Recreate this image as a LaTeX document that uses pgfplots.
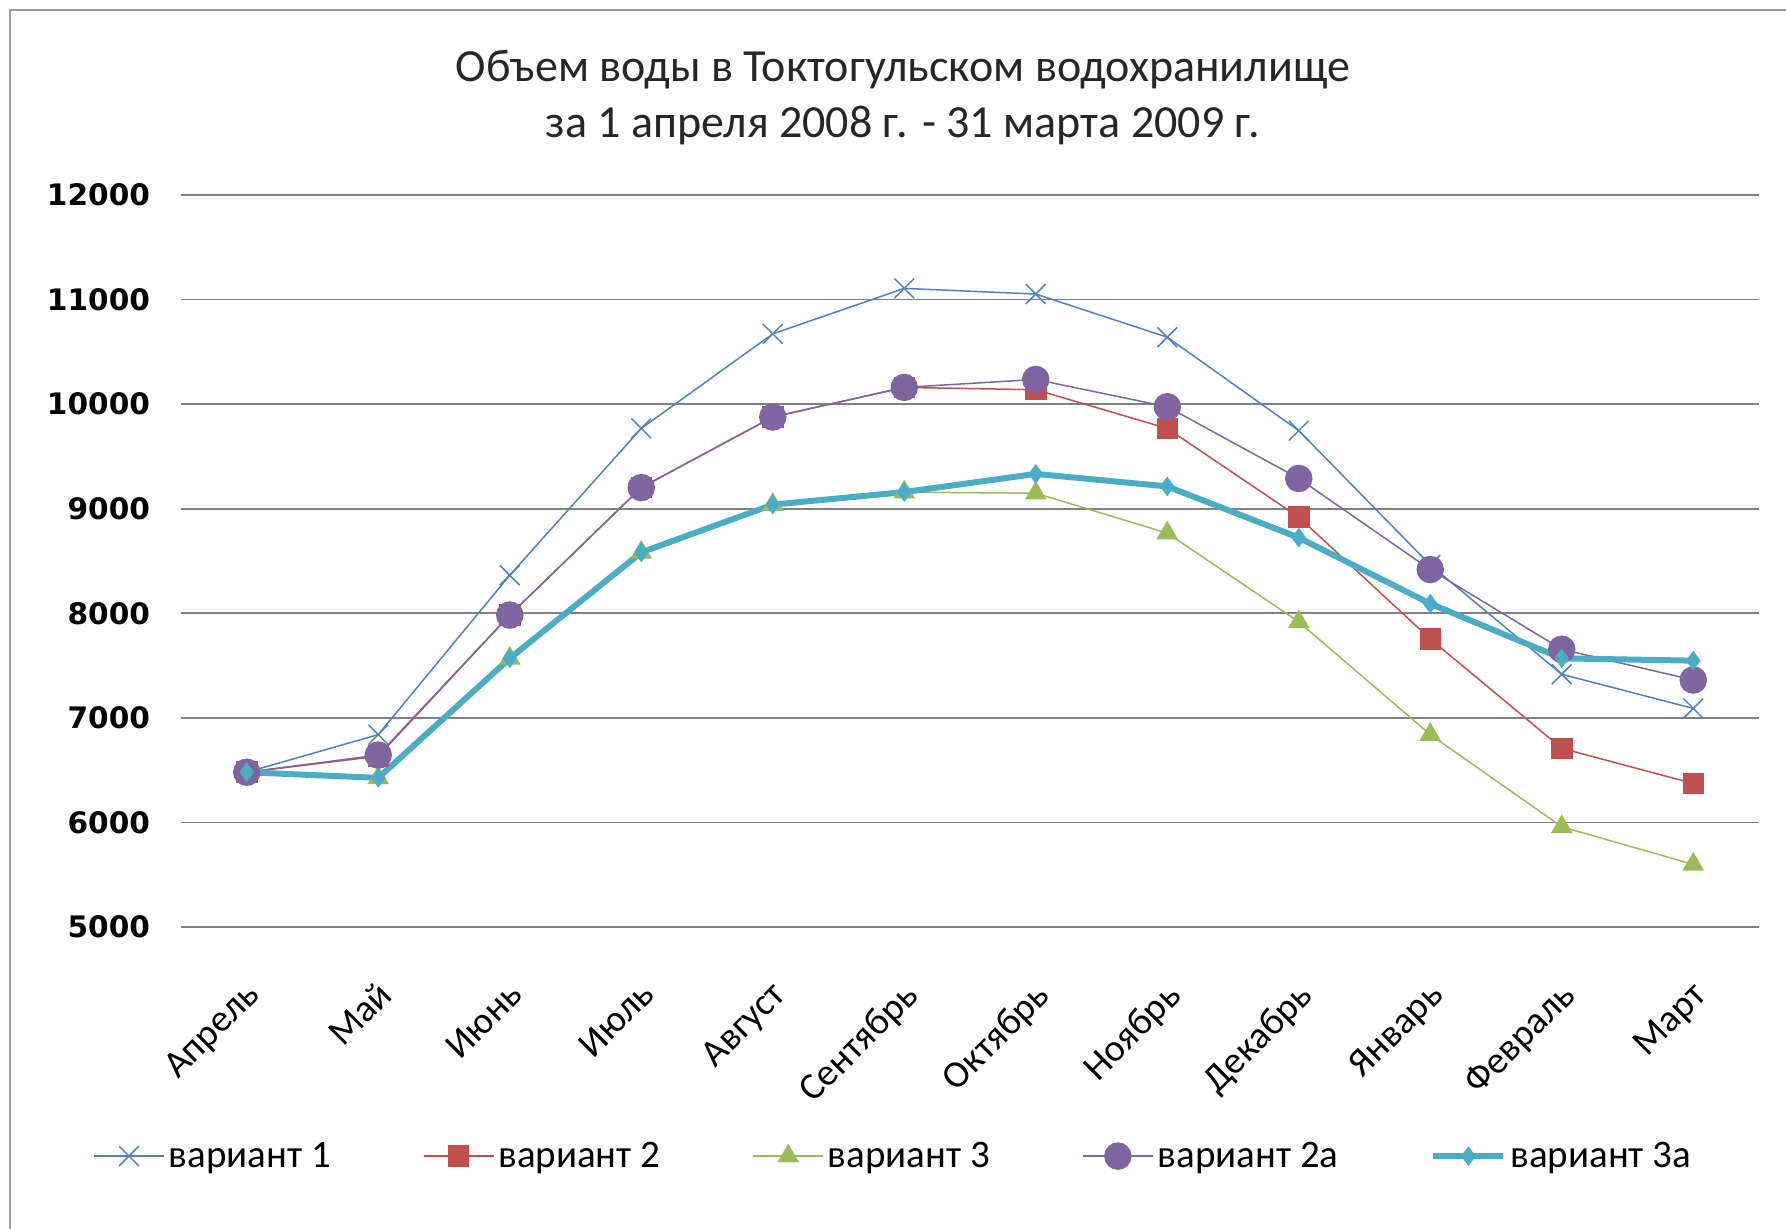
\documentclass[border=0pt]{standalone}
\usepackage{pgfplots}
\pgfplotsset{compat=1.18}
\usepackage{fontspec}
\setmainfont{Carlito}
\newfontfamily\tickfont{DejaVu Sans}
\definecolor{c1}{HTML}{4F81BD}
\definecolor{c2}{HTML}{C0504D}
\definecolor{c3}{HTML}{9BBB59}
\definecolor{c4}{HTML}{8064A2}
\definecolor{c5}{HTML}{4BACC6}
\pgfplotstableread{
x v1 v2 v3 v2a v3a
0 6480 6480 6480 6480 6480
1 6840 6633 6426 6644 6426
2 8364 7983 7569 7983 7569
3 9768 9202 8582 9202 8582
4 10672 9877 9039 9877 9039
5 11107 10160 9159 10160 9159
6 11053 10138 9148 10236 9333
7 10640 9768 8767 9975 9213
8 9747 8919 7918 9289 8723
9 8462 7754 6840 8418 8092
10 7417 6709 5958 7656 7569
11 7090 6372 5599 7362 7547
}\data
\begin{document}
\begin{tikzpicture}
\path[use as bounding box] (0,0) rectangle (893pt,614.5pt);
\draw[gray!75, line width=0.8pt] (5pt,-2pt) -- (5pt,609.5pt) -- (895pt,609.5pt);
\node[align=center, font=\fontsize{23}{28}\selectfont, text=black!85] at (451.5pt,565.5pt)
  {Объем воды в Токтогульском водохранилище\\за 1 апреля 2008 г. - 31 марта 2009 г.};
\begin{axis}[
  at={(90.5pt,151pt)}, anchor=south west,
  scale only axis, width=789pt, height=366pt,
  xmin=-0.5, xmax=11.5, ymin=5000, ymax=12000,
  ytick={5000,6000,...,12000},
  scaled ticks=false,
  xtick=data,
  xticklabels={Апрель,Май,Июнь,Июль,Август,Сентябрь,Октябрь,Ноябрь,Декабрь,Январь,Февраль,Март},
  axis line style={draw=none},
  major tick length=0pt,
  ymajorgrids, grid style={black!50, line width=0.8pt},
  yticklabel style={font=\tickfont\bfseries\fontsize{14.8}{16}\selectfont, xshift=-12pt},
  /pgf/number format/assume math mode=true,
  /pgf/number format/1000 sep={},
  xticklabel style={font=\fontsize{19}{22}\selectfont, rotate=45, anchor=north east, xshift=-16pt, yshift=-14pt},
  legend columns=5,
  legend style={at={(0.452,-0.313)}, anchor=center, draw=none, font=\fontsize{19.5}{22}\selectfont,
    /tikz/every even column/.append style={column sep=44pt}},
  legend image code/.code={\draw[#1] (0pt,0pt) -- (35pt,0pt); \draw[#1, mark repeat=2, mark phase=2] plot coordinates {(0pt,0pt) (17.5pt,0pt) (35pt,0pt)};},
  clip=false,
]
\addplot[c1, line width=0.75pt, mark=x, mark size=7pt] table[x=x,y=v1] {\data};
\addlegendentry{вариант 1}
\addplot[c2, line width=0.75pt, mark=square*, mark size=5pt, mark options={fill=c2}] table[x=x,y=v2] {\data};
\addlegendentry{вариант 2}
\addplot[c3, line width=0.75pt, mark=triangle*, mark size=5.5pt, mark options={fill=c3}] table[x=x,y=v3] {\data};
\addlegendentry{вариант 3}
\addplot[c4, line width=0.75pt, mark=*, mark size=6.5pt, mark options={fill=c4}] table[x=x,y=v2a] {\data};
\addlegendentry{вариант 2а}
\addplot[c5, line width=3pt, mark=diamond*, mark size=4.5pt, mark options={fill=c5, line width=0.5pt}] table[x=x,y=v3a] {\data};
\addlegendentry{вариант 3а}
\end{axis}
\end{tikzpicture}
\end{document}
